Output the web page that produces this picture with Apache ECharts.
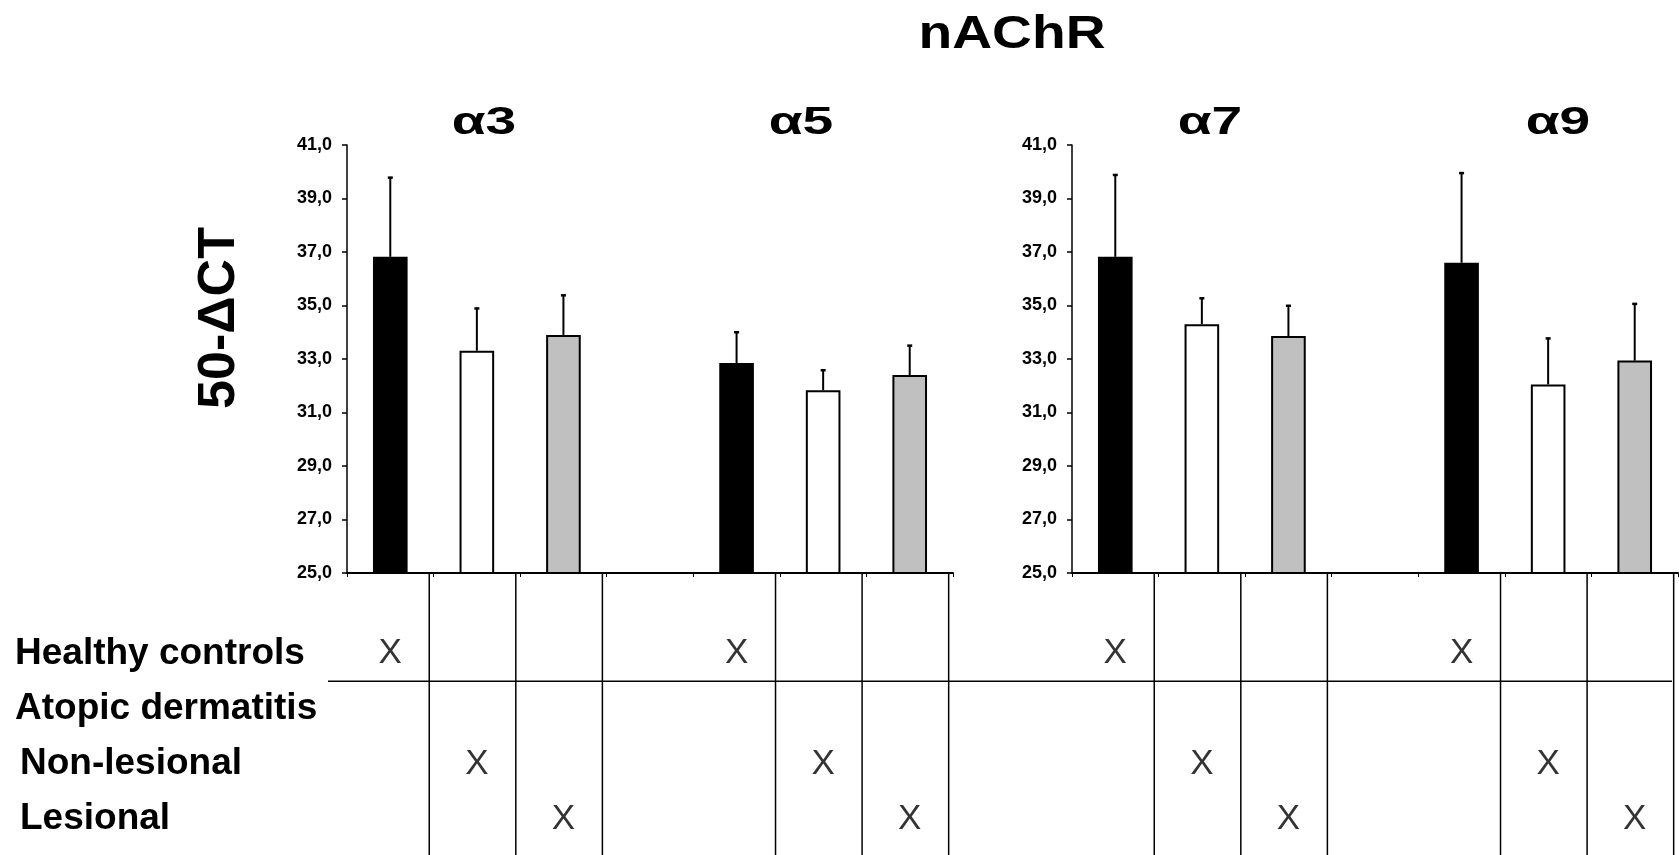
<!DOCTYPE html>
<html><head><meta charset="utf-8">
<script src="https://cdn.jsdelivr.net/npm/echarts@6/dist/echarts.min.js"></script>
<style>html,body{margin:0;padding:0;background:#fff}#c{width:1679px;height:855px}</style>
</head><body><div id="c"></div>
<script>
// ---------- data ----------
const chartTitle = 'nAChR';
const yTitle = '50-ΔCT';
const subunitsLeft = ['α3', 'α5'];
const subunitsRight = ['α7', 'α9'];
const groups = ['Healthy controls', 'Non-lesional', 'Lesional'];
const tableRows = ['Healthy controls', 'Atopic dermatitis', 'Non-lesional', 'Lesional'];
// mean 50-ΔCT, order [Healthy, Non-lesional, Lesional]
const meanA3 = [36.82, 33.31, 33.90];
const sdA3   = [2.96, 1.58, 1.48];
const meanA5 = [32.85, 31.83, 32.40];
const sdA5   = [1.15, 0.75, 1.10];
const meanA7 = [36.82, 34.30, 33.86];
const sdA7   = [3.06, 0.97, 1.13];
const meanA9 = [36.60, 32.05, 32.94];
const sdA9   = [3.35, 1.72, 2.12];
const yMin = 25, yMax = 41, yStep = 2;

// ---------- styles ----------
const FONT = '"Liberation Sans", Arial, sans-serif';
const groupColors = ['#000000', '#ffffff', '#c0c0c0'];

function buildPanel(subs, means, sds) {
  const cats = [], bars = [], errs = [], marks = [];
  subs.forEach((s, k) => {
    if (k > 0) { cats.push('gap ' + k); bars.push('-'); }
    groups.forEach((g, gi) => {
      const idx = cats.length;
      cats.push(s + ' ' + g);
      bars.push({ value: means[k][gi], itemStyle: { color: groupColors[gi] } });
      errs.push([idx, means[k][gi], means[k][gi] + sds[k][gi]]);
      marks.push([idx, g]);
    });
  });
  return { cats, bars, errs, marks };
}
const P = [
  buildPanel(subunitsLeft, [meanA3, meanA5], [sdA3, sdA5]),
  buildPanel(subunitsRight, [meanA7, meanA9], [sdA7, sdA9])
];

const gridLeft = [347, 1072];
const gridW = 606;

function renderErr(params, api) {
  const x = api.value(0);
  const p0 = api.coord([x, api.value(1)]);
  const p1 = api.coord([x, api.value(2)]);
  const cap = 2.5;
  return { type: 'group', children: [
    { type: 'line', shape: { x1: p0[0], y1: p0[1], x2: p1[0], y2: p1[1] }, style: { stroke: '#000', lineWidth: 2 } },
    { type: 'line', shape: { x1: p1[0] - cap, y1: p1[1], x2: p1[0] + cap, y2: p1[1] }, style: { stroke: '#000', lineWidth: 2.5 } }
  ]};
}

const grid = [], xAxis = [], yAxis = [], series = [];
P.forEach((p, i) => {
  grid.push({ left: gridLeft[i], width: gridW, top: 145, height: 428 });
  xAxis.push({ type: 'category', gridIndex: i, data: p.cats,
    axisLine: { lineStyle: { color: '#000', width: 2 } },
    axisTick: { show: true, interval: 0, length: 4, lineStyle: { color: '#000', width: 1 } },
    axisLabel: { show: false }, splitLine: { show: false } });
  yAxis.push({ type: 'value', gridIndex: i, min: yMin, max: yMax, interval: yStep,
    axisLine: { show: true, lineStyle: { color: '#000', width: 1.5 } },
    axisTick: { show: true, length: 5, lineStyle: { color: '#000', width: 1.5 } },
    splitLine: { show: false },
    axisLabel: { margin: 15, color: '#000', fontSize: 18, fontWeight: 'bold', fontFamily: FONT,
      formatter: v => v.toFixed(1).replace('.', ',') } });
  series.push({ type: 'bar', xAxisIndex: i, yAxisIndex: i, data: p.bars, barWidth: '40%',
    itemStyle: { borderColor: '#000', borderWidth: 2 }, animation: false, silent: true });
  series.push({ type: 'custom', xAxisIndex: i, yAxisIndex: i, data: p.errs, renderItem: renderErr,
    z: 5, animation: false, silent: true });
});
// table grids
P.forEach((p, i) => {
  grid.push({ left: gridLeft[i], width: gridW, top: 626, height: 220.8 });
  xAxis.push({ type: 'category', gridIndex: 2 + i, data: p.cats, show: false });
  yAxis.push({ type: 'category', gridIndex: 2 + i, data: tableRows, inverse: true,
    axisLine: { show: false }, axisTick: { show: false }, splitLine: { show: false },
    axisLabel: { show: i === 0, align: 'left', margin: gridLeft[0] - 15, color: '#000',
      fontSize: 37, fontWeight: 'bold', fontFamily: FONT,
      formatter: (v, idx) => idx >= 2 ? '{ind|' + v + '}' : v,
      rich: { ind: { padding: [0, 0, 0, 5], fontSize: 37, fontWeight: 'bold', fontFamily: FONT, color: '#000' } } } });
  series.push({ type: 'scatter', xAxisIndex: 2 + i, yAxisIndex: 2 + i, data: p.marks,
    symbol: 'circle', symbolSize: 1, itemStyle: { color: 'rgba(0,0,0,0)' },
    label: { show: true, position: 'inside', formatter: 'X', color: '#000', fontSize: 35,
      fontFamily: FONT, fontWeight: 'normal' }, animation: false, silent: true });
});

const chart = echarts.init(document.getElementById('c'), null, { renderer: 'canvas' });
chart.setOption({ backgroundColor: '#fff', animation: false, grid, xAxis, yAxis, series });

// ---------- decorations derived from the axes ----------
const gfx = [];
function txt(text, x, y, size, sx, rot) {
  return { type: 'text', x, y, rotation: rot || 0, scaleX: sx || 1, silent: true,
    style: { text, fill: '#000', fontSize: size, fontWeight: 'bold', fontFamily: FONT,
      align: 'center', verticalAlign: 'middle' } };
}
gfx.push(txt(chartTitle, 1012, 35, 46, 1.2));
const subTitlePos = [[484, 124], [801, 124], [1210, 124], [1558, 124]];
subunitsLeft.concat(subunitsRight).forEach((s, i) => gfx.push(txt(s, subTitlePos[i][0], subTitlePos[i][1], 38, 1.45)));
gfx.push(txt(yTitle, 220, 318, 52, 1, Math.PI / 2));

const yBase = chart.convertToPixel({ yAxisIndex: 0 }, yMin);
const H = chart.getHeight();
P.forEach((p, ai) => {
  const band = chart.convertToPixel({ xAxisIndex: ai }, 1) - chart.convertToPixel({ xAxisIndex: ai }, 0);
  p.marks.forEach(m => {
    const x = chart.convertToPixel({ xAxisIndex: ai }, m[0]) + band * 0.45;
    gfx.push({ type: 'line', silent: true, shape: { x1: x, y1: yBase, x2: x, y2: H },
      style: { stroke: '#000', lineWidth: 1.5 } });
  });
});
const r0 = chart.convertToPixel({ yAxisIndex: 2 }, tableRows[0]);
const r1 = chart.convertToPixel({ yAxisIndex: 2 }, tableRows[1]);
const yRule = (r0 + r1) / 2;
gfx.push({ type: 'line', silent: true, shape: { x1: gridLeft[0] - 19, y1: yRule, x2: chart.getWidth() - 7, y2: yRule },
  style: { stroke: '#000', lineWidth: 1.5 } });

chart.setOption({ graphic: gfx });
</script></body></html>
